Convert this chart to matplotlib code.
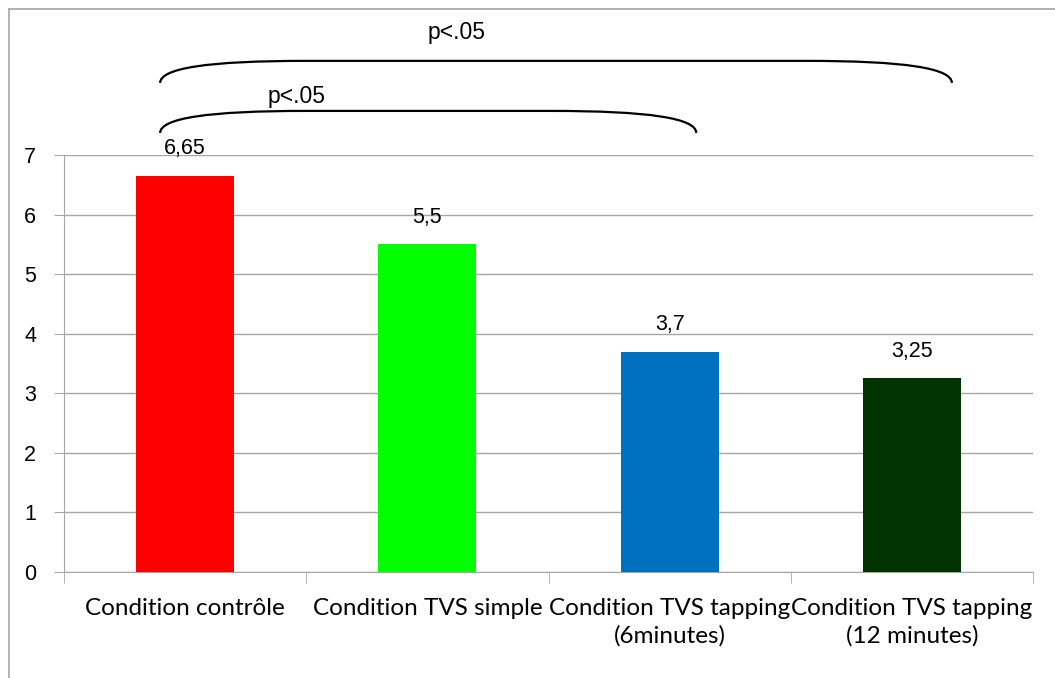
import matplotlib
matplotlib.use("Agg")
import matplotlib.pyplot as plt
from matplotlib.path import Path
from matplotlib.patches import PathPatch
from matplotlib.lines import Line2D

categories = ["Condition contrôle", "Condition TVS simple",
              "Condition TVS tapping\n(6minutes)", "Condition TVS tapping\n(12 minutes)"]
values = [6.65, 5.5, 3.7, 3.25]
value_labels = ["6,65", "5,5", "3,7", "3,25"]
colors = ["#FF0000", "#00FF00", "#0070C0", "#003300"]
# comparaisons significatives (barre gauche, barre droite, texte)
comparisons = [(0, 2, "p<.05"), (0, 3, "p<.05")]

grid_col = "#A6A6A6"

fig = plt.figure(figsize=(10.55, 6.78), dpi=100)
ax = fig.add_axes([64 / 1055, 106 / 678, 969 / 1055, 417 / 678])

x = list(range(len(categories)))
ax.bar(x, values, width=0.405, color=colors, zorder=3)

for xi, v, lab in zip(x, values, value_labels):
    ax.annotate(lab, (xi, v), xytext=(0, 19.5), textcoords="offset points",
                ha="center", va="center", fontsize=15.5, family="Liberation Sans")

ax.set_xlim(-0.5, 3.5)
ax.set_ylim(0, 7)
ax.set_yticks(range(8))
ax.yaxis.grid(True, color=grid_col, linewidth=1, zorder=0)
for s in ["top", "right"]:
    ax.spines[s].set_visible(False)
for s in ["left", "bottom"]:
    ax.spines[s].set_color(grid_col)
ax.tick_params(axis="y", length=7, color=grid_col, labelsize=15.5, pad=13)
for t in ax.get_yticklabels():
    t.set_family("Liberation Sans")

ax.set_xticks(x)
ax.set_xticklabels(categories, fontsize=17.5, family="Lato", linespacing=1.34)
ax.tick_params(axis="x", which="major", length=0, pad=18.5)
ax.set_xticks([-0.5, 0.5, 1.5, 2.5, 3.5], minor=True)
ax.tick_params(axis="x", which="minor", length=8, color=grid_col)

# accolades au-dessus des barres
levels = [(7.37, 7.74), (8.21, 8.58)]
right_off = [0.11, 0.165]
for (i, j, txt), (yb, yt), ro in zip(comparisons, levels, right_off):
    x0 = i - 0.103
    x1 = j + ro
    verts = [(x0, yb), (x0, yt - 0.12), (x0 + 0.2, yt), (x0 + 0.6, yt),
             (x1 - 0.6, yt),
             (x1 - 0.2, yt), (x1, yt - 0.12), (x1, yb)]
    codes = [Path.MOVETO, Path.CURVE4, Path.CURVE4, Path.CURVE4,
             Path.LINETO,
             Path.CURVE4, Path.CURVE4, Path.CURVE4]
    ax.add_patch(PathPatch(Path(verts, codes), fill=False, lw=1.6,
                           color="black", clip_on=False))

ax.text(0.46, 7.98, comparisons[0][2], ha="center", va="center",
        fontsize=16.5, family="Liberation Sans")
ax.text(1.12, 9.05, comparisons[1][2], ha="center", va="center",
        fontsize=16.5, family="Liberation Sans")

# cadre de la figure
fig.add_artist(Line2D([9 / 1055, 1], [669 / 678, 669 / 678], color=grid_col, lw=1.2))
fig.add_artist(Line2D([9 / 1055, 9 / 1055], [0, 669 / 678], color=grid_col, lw=1.2))

fig.savefig("out.png", dpi=100)
